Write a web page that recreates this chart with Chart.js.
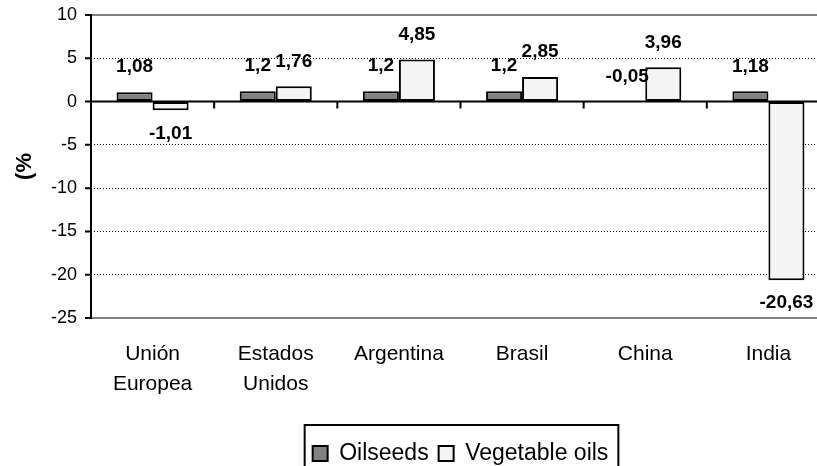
<!DOCTYPE html>
<html>
<head>
<meta charset="utf-8">
<script src="https://cdn.jsdelivr.net/npm/chart.js@4"></script>
<style>
html,body{margin:0;padding:0;background:#fff;overflow:hidden;}
#wrap{width:817px;height:466px;overflow:hidden;position:relative;}
canvas{position:absolute;left:0;top:0;}
</style>
</head>
<body>
<div id="wrap"><canvas id="c" width="840" height="480" style="width:840px;height:480px"></canvas></div>
<script>
const categories = [['Unión','Europea'], ['Estados','Unidos'], 'Argentina', 'Brasil', 'China', 'India'];
const oilseeds = [1.08, 1.2, 1.2, 1.2, -0.05, 1.18];
const vegetableOils = [-1.01, 1.76, 4.85, 2.85, 3.96, -20.63];
const seriesNames = ['Oilseeds', 'Vegetable oils'];
const yTicks = [10, 5, 0, -5, -10, -15, -20, -25];
const dottedGrid = [5, -5, -10, -15, -20];

const FONT = "'Liberation Sans', Arial, sans-serif";

const decorPlugin = {
  id: 'decor',
  beforeDatasetsDraw(chart) {
    const {ctx, chartArea: a} = chart;
    ctx.save();
    ctx.strokeStyle = '#808080';
    ctx.lineWidth = 2;
    ctx.beginPath();
    ctx.moveTo(a.left, a.top); ctx.lineTo(a.right, a.top);
    ctx.moveTo(a.left, a.bottom); ctx.lineTo(a.right, a.bottom);
    ctx.stroke();
    ctx.restore();
  },
  afterDatasetsDraw(chart) {
    const {ctx, chartArea: a, scales: {x, y}} = chart;
    ctx.save();
    ctx.strokeStyle = '#000';
    ctx.lineWidth = 2;
    ctx.beginPath();
    ctx.moveTo(a.left, a.top - 1); ctx.lineTo(a.left, a.bottom + 1);
    yTicks.forEach(v => { const py = y.getPixelForValue(v); ctx.moveTo(a.left - 6, py); ctx.lineTo(a.left, py); });
    const y0 = y.getPixelForValue(0);
    ctx.moveTo(a.left, y0); ctx.lineTo(a.right, y0);
    const half = (x.getPixelForValue(1) - x.getPixelForValue(0)) / 2;
    for (let i = 0; i < categories.length; i++) {
      const px = x.getPixelForValue(i) + half;
      ctx.moveTo(px, y0); ctx.lineTo(px, y0 + 7);
    }
    ctx.stroke();

    ctx.font = "bold 19px " + FONT;
    ctx.fillStyle = '#000';
    ctx.textAlign = 'center';
    ctx.textBaseline = 'middle';
    chart.data.datasets.forEach((ds, di) => {
      const meta = chart.getDatasetMeta(di);
      meta.data.forEach((bar, i) => {
        const v = ds.data[i];
        const txt = String(v).replace('.', ',');
        const w = ctx.measureText(txt).width;
        let cx = bar.x;
        if (cx + w / 2 > 815) cx = 815 - w / 2;
        const cy = v >= -0.5 ? bar.y - 25 : bar.y + 23;
        ctx.fillText(txt, cx, cy);
      });
    });
    ctx.restore();
  },
  afterDraw(chart) {
    const lg = chart.legend;
    if (!lg || !lg.legendHitBoxes || !lg.legendHitBoxes.length) return;
    const hb = lg.legendHitBoxes;
    const {ctx} = chart;
    const l = hb[0].left - 8;
    const r = hb[hb.length - 1].left + hb[hb.length - 1].width + 10;
    const t = lg.top - 7;
    ctx.save();
    ctx.strokeStyle = '#000';
    ctx.lineWidth = 2;
    ctx.beginPath();
    ctx.moveTo(l, chart.height + 5); ctx.lineTo(l, t); ctx.lineTo(r, t); ctx.lineTo(r, chart.height + 5);
    ctx.stroke();
    ctx.restore();
  }
};

new Chart(document.getElementById('c'), {
  type: 'bar',
  data: {
    labels: categories,
    datasets: [
      { label: seriesNames[0], data: oilseeds, backgroundColor: '#808080', borderColor: '#000', borderWidth: 2, borderSkipped: false, categoryPercentage: 0.585, barPercentage: 1 },
      { label: seriesNames[1], data: vegetableOils, backgroundColor: '#f4f4f4', borderColor: '#000', borderWidth: 2, borderSkipped: false, categoryPercentage: 0.585, barPercentage: 1 }
    ]
  },
  options: {
    responsive: false,
    animation: false,
    devicePixelRatio: 1,
    layout: { padding: { top: 15, right: 10, bottom: 5, left: 0 } },
    plugins: {
      tooltip: { enabled: false },
      legend: {
        position: 'bottom',
        fullSize: false,
        labels: { font: { family: FONT, size: 23 }, color: '#000', boxWidth: 15, boxHeight: 15, padding: 10 }
      }
    },
    scales: {
      x: {
        grid: { display: false, drawTicks: false },
        border: { display: false },
        ticks: { font: { family: FONT, size: 21, lineHeight: 1.43 }, color: '#000', padding: 21, maxRotation: 0, autoSkip: false },
        afterFit(s) { s.height = 114; s.paddingLeft = 0; s.paddingRight = 0; }
      },
      y: {
        min: -25, max: 10,
        grid: {
          drawTicks: false,
          color: ctx => (ctx.tick && dottedGrid.includes(ctx.tick.value)) ? '#000' : 'rgba(0,0,0,0)',
          lineWidth: 1
        },
        border: { display: false, dash: [1, 2] },
        ticks: { stepSize: 5, font: { family: FONT, size: 18 }, color: '#000', padding: 14 },
        title: { display: true, text: '(%', font: { family: FONT, size: 22, weight: 'bold' }, color: '#000', padding: { top: 12, bottom: 0 } },
        afterFit(s) { s.width = 91; s.paddingTop = 0; s.paddingBottom = 0; }
      }
    }
  },
  plugins: [decorPlugin]
});
</script>
</body>
</html>
